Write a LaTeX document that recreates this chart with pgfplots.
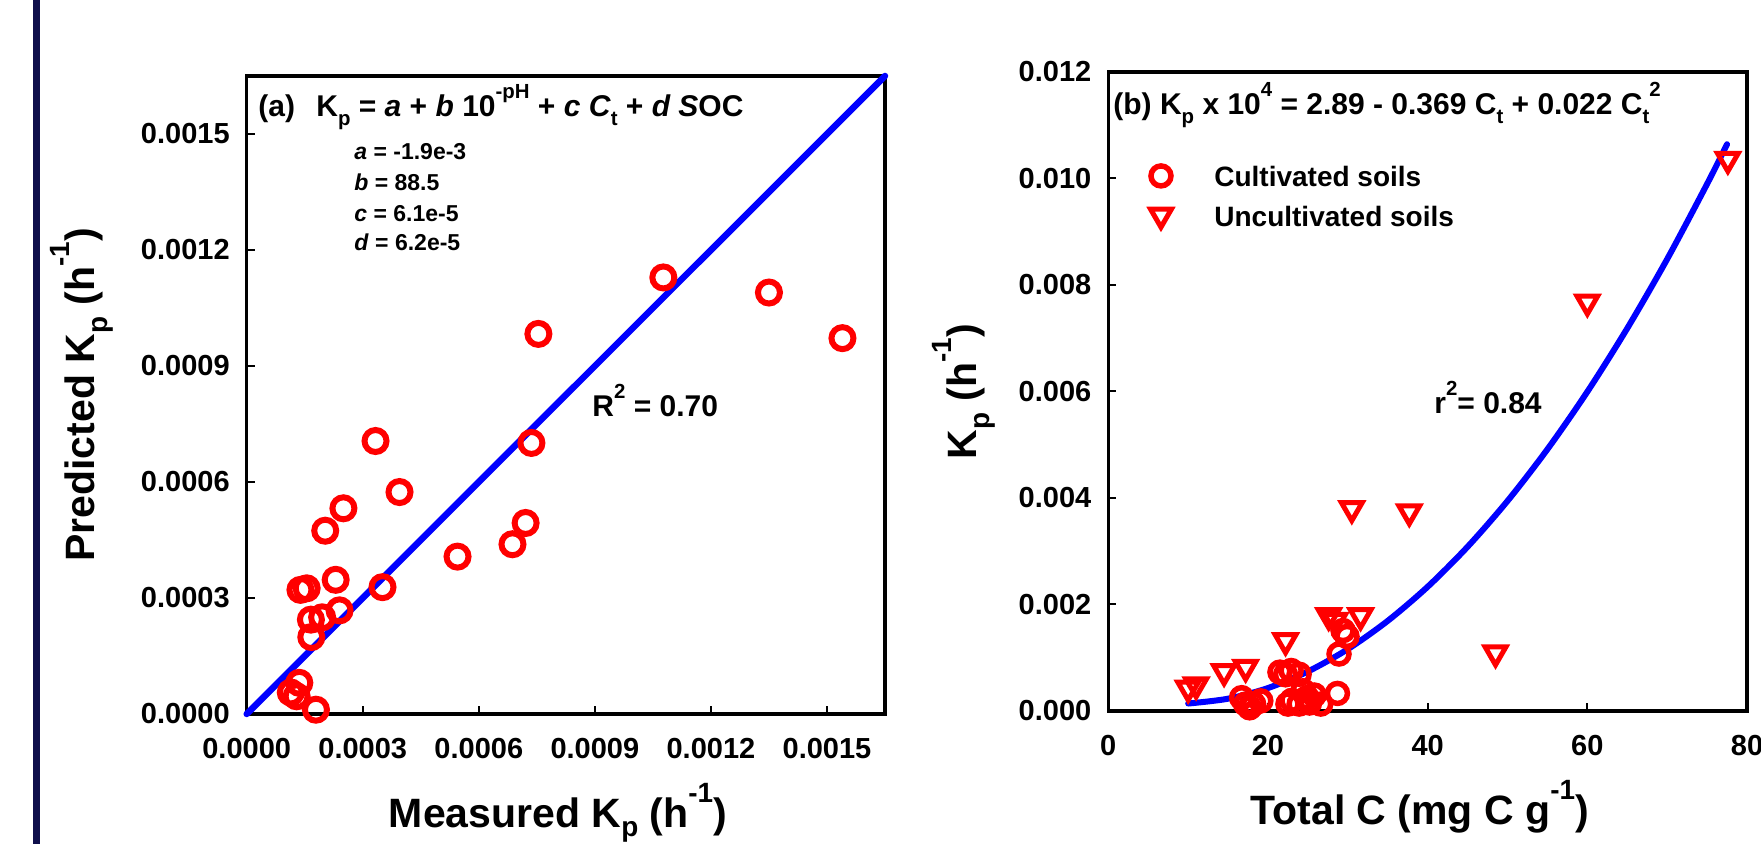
\documentclass[border=0pt]{standalone}
\usepackage{fontspec}
\setmainfont{Liberation Sans}
\usepackage{graphicx}
\usepackage{pgfplots}
\pgfplotsset{compat=1.18}
\definecolor{navybar}{RGB}{15,15,75}
\newcommand{\fs}[1]{\fontsize{#1}{#1}\selectfont\bfseries}
\newcommand{\sub}[1]{\raisebox{-0.3em}{\scalebox{0.68}{#1}}}
\newcommand{\subl}[1]{\raisebox{-0.22em}{\scalebox{0.68}{#1}}}
\newcommand{\sups}[1]{\raisebox{0.62em}{\scalebox{0.68}{#1}}}
\pgfplotsset{
  common/.style={
    scale only axis, scaled ticks=false, clip=false,
    axis line style={line width=1.65pt},
    tick align=inside, tick pos=left,
    major tick length=4pt,
    every tick/.style={black, line width=1pt},
    tick label style={font=\fs{14.5}},
    xticklabel style={inner sep=0pt, yshift=-12pt},
    yticklabel style={inner sep=0pt, xshift=-8.3pt},
    label style={font=\fs{20.5}},
  }
}
\begin{document}
\begin{tikzpicture}[x=0.5pt,y=0.5pt]
\path[use as bounding box] (0,0) rectangle (1761,844);
\fill[navybar] (33,0) rectangle (40,844);

% ---------- panel (a)
\begin{axis}[common,
  at={(123.35pt,65pt)}, anchor=south west,
  width=319.15pt, height=319pt,
  xmin=0, xmax=0.00165, ymin=0, ymax=0.00165,
  xtick={0,0.0003,0.0006,0.0009,0.0012,0.0015},
  xticklabels={0.0000,0.0003,0.0006,0.0009,0.0012,0.0015},
  ytick={0,0.0003,0.0006,0.0009,0.0012,0.0015},
  yticklabels={0.0000,0.0003,0.0006,0.0009,0.0012,0.0015},
  xlabel={Measured K\subl{p} (h\sups{-1})},
  ylabel={Predicted K\sub{p} (h\sups{-1})},
  xlabel style={at={(axis description cs:0.5,-0.178)}, anchor=base, xshift=-4pt},
  ylabel style={at={(axis description cs:-0.2381,0.5)}, anchor=base},
]
\addplot[only marks, mark=o, red, line width=3pt, mark size=5.5pt] coordinates {
(0.001077,0.001129) (0.001350,0.001090) (0.001540,0.000972) (0.000754,0.000983)
(0.000333,0.000706) (0.000736,0.000701) (0.000395,0.000574) (0.000250,0.000532)
(0.000203,0.000474) (0.000721,0.000494) (0.000687,0.000439) (0.000545,0.000407)
(0.000230,0.000347) (0.000139,0.000321) (0.000155,0.000325) (0.000351,0.000328)
(0.000240,0.000268) (0.000195,0.000250) (0.000166,0.000244) (0.000167,0.000199)
(0.000136,0.0000806) (0.000114,0.0000556) (0.000129,0.0000458) (0.000179,0.0000111)
};
\addplot[blue, line width=3.25pt, line cap=round] coordinates {(0,0) (0.00165,0.00165)};
\end{axis}

% ---------- panel (b)
\begin{axis}[common,
  at={(554.15pt,66.5pt)}, anchor=south west,
  width=319.35pt, height=319.5pt,
  xmin=0, xmax=80, ymin=0, ymax=0.012,
  xtick={0,20,40,60,80},
  xticklabels={0,20,40,60,80},
  ytick={0,0.002,0.004,0.006,0.008,0.010,0.012},
  yticklabels={0.000,0.002,0.004,0.006,0.008,0.010,0.012},
  xlabel={Total C (mg C g\sups{-1})},
  ylabel={K\sub{p} (h\sups{-1})},
  xlabel style={at={(axis description cs:0.5,-0.1784)}, anchor=base, xshift=-4pt},
  ylabel style={at={(axis description cs:-0.2056,0.5)}, anchor=base},
  legend style={draw=none, fill=none, inner sep=0pt, outer sep=0pt,
    at={(axis description cs:0.0662,0.853)}, anchor=north west,
    font=\fs{14}, row sep=8pt, column sep=21.5pt,
    nodes={inner sep=0pt, anchor=base west}},
  legend cell align=left,
  legend image code/.code={\draw[#1] plot coordinates {(0pt,5.5pt)};},
]
\addplot[only marks, mark=o, red, line width=2.75pt, mark size=5pt] coordinates {
(28.9,0.00107) (29.4,0.00151) (29.9,0.00140) (28.7,0.00033) (21.5,0.00073)
(22.9,0.00076) (23.9,0.00069) (22.5,0.00013) (23.9,0.00013) (24.9,0.00025)
(25.8,0.00030) (26.6,0.00013) (24.4,0.00038) (16.7,0.00025) (17.7,0.00006)
(19.1,0.00019) (18.2,0.00013) (17.2,0.00013) (23.0,0.00020) (22.2,0.00068)
(25.2,0.00015)
};
\addlegendentry{Cultivated soils}
\addplot[only marks, mark=triangle, mark options={rotate=180}, red, line width=2.5pt, mark size=6pt] coordinates {
(77.6,0.01036) (60.0,0.00768) (30.5,0.00380) (37.7,0.00374) (48.5,0.00109)
(27.6,0.00179) (28.4,0.00170) (31.6,0.00179) (22.2,0.00132) (17.2,0.00082)
(14.5,0.00074) (11.0,0.00049) (10.0,0.00043)
};
\addlegendentry{Uncultivated soils}
\addplot[blue, line width=3pt, line cap=round, smooth] coordinates {
(10,0.000140) (15,0.000231) (20,0.000431) (25,0.000742) (30,0.001162)
(35,0.001693) (40,0.002333) (45,0.003084) (50,0.003944) (55,0.004915)
(60,0.005995) (65,0.007186) (70,0.008486) (75,0.009897) (77.5,0.010643)
};
\end{axis}

% ---------- annotations
\node[anchor=base west, inner sep=0pt, font=\fs{15}] at (258,727) {(a)};
\node[anchor=base west, inner sep=0pt, font=\fs{15}] at (316,727)
  {K\sub{p} = \textit{a} + \textit{b} 10\sups{-pH} + \textit{c C}\sub{t} + \textit{d S}OC};
\node[anchor=base west, inner sep=0pt, font=\fs{11.5}] at (354,684) {\textit{a} = -1.9e-3};
\node[anchor=base west, inner sep=0pt, font=\fs{11.5}] at (354,653) {\textit{b} = 88.5};
\node[anchor=base west, inner sep=0pt, font=\fs{11.5}] at (354,622) {\textit{c} = 6.1e-5};
\node[anchor=base west, inner sep=0pt, font=\fs{11.5}] at (354,593) {\textit{d} = 6.2e-5};
\node[anchor=base west, inner sep=0pt, font=\fs{15}] at (592,427) {R\sups{2} = 0.70};
\node[anchor=base west, inner sep=0pt, font=\fs{15}] at (1113,729)
  {(b) K\sub{p} x 10\sups{4} = 2.89 - 0.369 C\sub{t} + 0.022 C\sub{t}\sups{2}};
\node[anchor=base west, inner sep=0pt, font=\fs{15}] at (1434,430) {r\sups{2}= 0.84};
\end{tikzpicture}
\end{document}
